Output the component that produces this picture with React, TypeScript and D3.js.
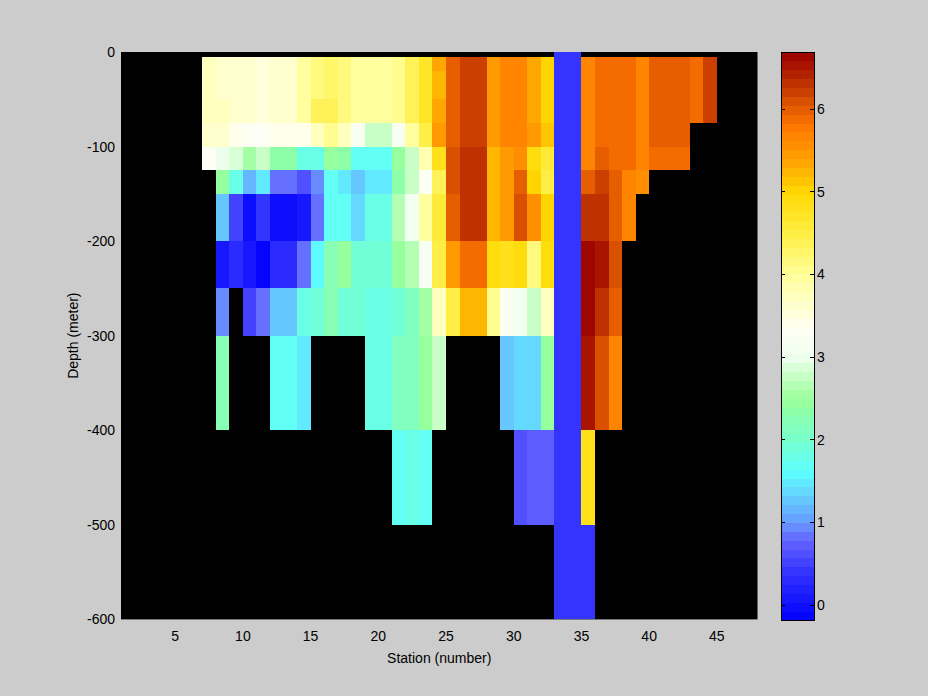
import React from "react";
import * as d3 from "d3";

// Left edge of each station column (cell spans station .. station+1)
const stations = [7, 8, 9, 10, 11, 12, 13, 14, 15, 16, 17, 18, 19, 20, 21, 22, 23, 24, 25, 26, 27, 28, 29, 30, 31, 32, 33, 34, 35, 36, 37, 38, 39, 40, 41, 42, 43, 44];
// Depth band edges (meters, positive downwards)
const depths = [0, 5, 20, 50, 75, 100, 125, 150, 200, 250, 300, 400, 500, 600];

const n = null;
// values[row][col], row = depth band, col = station column
const values: (number | null)[][] = [
  // 0-5
  [n, n, n, n, n, n, n, n, n, n, n, n, n, n, n, n, n, n, n, n, n, n, n, n, n, n, 0.4, 0.4, n, n, n, n, n, n, n, n, n, n],
  // 5-20
  [3.7, 3.6, 3.6, 3.6, 3.5, 3.6, 3.6, 3.9, 4.2, 4.3, 4.2, 3.9, 3.9, 3.9, 4.1, 4.35, 4.75, 5.3, 5.98, 6.2, 6.2, 5.5, 5.72, 5.72, 5.35, 5.0, 0.4, 0.4, 5.65, 5.85, 5.85, 5.85, 5.72, 5.98, 5.98, 5.98, 5.85, 6.2],
  // 20-50
  [3.7, 3.65, 3.6, 3.6, 3.5, 3.6, 3.6, 3.9, 4.2, 4.3, 4.2, 3.9, 3.9, 3.9, 4.1, 4.35, 4.75, 5.25, 5.98, 6.2, 6.2, 5.5, 5.72, 5.72, 5.35, 5.0, 0.4, 0.4, 5.65, 5.85, 5.85, 5.85, 5.72, 5.98, 5.98, 5.98, 5.85, 6.2],
  // 50-75
  [3.7, 3.7, 3.6, 3.6, 3.5, 3.6, 3.6, 3.9, 4.4, 4.35, 4.2, 3.9, 3.9, 3.9, 4.05, 4.4, 4.75, 5.3, 5.98, 6.2, 6.2, 5.5, 5.72, 5.72, 5.35, 5.0, 0.4, 0.4, 5.65, 5.85, 5.85, 5.85, 5.72, 5.98, 5.98, 5.98, 5.85, 6.2],
  // 75-100
  [3.6, 3.6, 3.45, 3.35, 3.35, 3.45, 3.45, 3.45, 3.7, 4.1, 3.7, 3.15, 2.8, 2.8, 3.15, 3.9, 4.45, 5.45, 5.98, 6.2, 6.2, 5.5, 5.72, 5.72, 5.45, 5.1, 0.4, 0.4, 5.65, 5.85, 5.85, 5.85, 5.72, 5.98, 5.98, 5.98, n, n],
  // 100-125
  [3.35, 3.0, 2.9, 2.6, 2.8, 2.3, 2.3, 1.85, 1.85, 2.5, 2.3, 1.75, 1.75, 1.75, 2.4, 2.8, 3.8, 4.85, 6.08, 6.35, 6.35, 5.25, 5.45, 5.6, 4.9, 4.65, 0.4, 0.4, 5.65, 5.98, 5.85, 5.85, 5.72, 5.85, 5.85, 5.85, n, n],
  // 125-150
  [n, 2.5, 1.85, 1.2, 1.5, 0.87, 0.87, 0.6, 0.93, 1.75, 1.5, 1.3, 1.5, 1.5, 2.3, 2.8, 3.35, 4.4, 6.08, 6.35, 6.35, 5.25, 5.45, 5.98, 5.0, 4.5, 0.4, 0.4, 5.98, 6.2, 5.98, 5.72, 5.6, n, n, n, n, n],
  // 150-200
  [n, 1.25, 0.48, 0.02, 0.45, 0.0, 0.0, 0.08, 0.87, 1.75, 1.75, 1.35, 1.85, 1.85, 2.7, 3.05, 3.9, 4.6, 5.98, 6.35, 6.35, 5.25, 5.45, 6.08, 5.6, 5.0, 0.4, 0.4, 6.35, 6.35, 5.98, 5.72, n, n, n, n, n, n],
  // 200-250
  [n, 0.1, 0.28, 0.12, -0.15, 0.28, 0.28, 0.87, 1.62, 2.2, 2.45, 1.9, 1.9, 1.9, 2.5, 2.7, 3.15, 4.5, 5.45, 5.88, 5.88, 4.9, 4.85, 4.9, 4.2, 4.9, 0.4, 0.4, 6.65, 6.5, 6.08, n, n, n, n, n, n, n],
  // 250-300
  [n, 0.97, n, 0.5, 0.8, 1.25, 1.25, 1.85, 1.95, 2.2, 1.9, 1.9, 1.85, 1.85, 1.95, 2.1, 2.6, 3.7, 4.5, 5.2, 5.2, 4.1, 3.15, 3.05, 2.8, 3.7, 0.4, 0.4, 6.65, 6.35, 5.98, n, n, n, n, n, n, n],
  // 300-400
  [n, 2.2, n, n, n, 1.75, 1.75, 1.5, n, n, n, n, 1.85, 1.85, 2.1, 2.1, 2.45, 2.8, n, n, n, n, 1.25, 1.4, 1.4, 2.5, 0.4, 0.4, 6.5, 6.08, 5.72, n, n, n, n, n, n, n],
  // 400-500
  [n, n, n, n, n, n, n, n, n, n, n, n, n, n, 1.75, 1.85, 1.75, n, n, n, n, n, n, 0.6, 0.7, 0.7, 0.4, 0.4, 4.85, n, n, n, n, n, n, n, n, n],
  // 500-600
  [n, n, n, n, n, n, n, n, n, n, n, n, n, n, n, n, n, n, n, n, n, n, n, n, n, n, 0.4, 0.4, 0.4, n, n, n, n, n, n, n, n, n],
];

const xTicks = [5, 10, 15, 20, 25, 30, 35, 40, 45];
const yTicks = [0, -100, -200, -300, -400, -500, -600];
const cTicks = [0, 1, 2, 3, 4, 5, 6];

const colorKeys: [number, string][] = [
  [-0.18, "#0000ff"],
  [0.0, "#1010ff"],
  [0.4, "#3333ff"],
  [0.8, "#6666ff"],
  [1.0, "#6699ff"],
  [1.3, "#66ccff"],
  [1.62, "#5cffff"],
  [2.0, "#77ffcc"],
  [2.5, "#99ff99"],
  [3.0, "#eeffee"],
  [3.35, "#fffff5"],
  [4.0, "#ffff99"],
  [4.5, "#ffee44"],
  [5.0, "#ffd800"],
  [5.4, "#ffa000"],
  [5.8, "#ff7700"],
  [6.1, "#d85000"],
  [6.4, "#b42400"],
  [6.69, "#990000"],
];

const CMIN = -0.18;
const CMAX = 6.69;
const NBANDS = 64;

const W = 928;
const H = 696;
const FONT = "'Liberation Sans', Arial, Helvetica, sans-serif";

export default function App() {
  const x = d3.scaleLinear().domain([1, 48]).range([121, 757.5]);
  const y = d3.scaleLinear().domain([0, -600]).range([52, 619.4]);

  const interp = d3
    .scaleLinear<string>()
    .domain(colorKeys.map((k) => k[0]))
    .range(colorKeys.map((k) => k[1]))
    .interpolate(d3.interpolateRgb)
    .clamp(true);
  const bandW = (CMAX - CMIN) / NBANDS;
  const bandColors = d3.range(NBANDS).map((i) => interp(CMIN + (i + 0.5) * bandW));
  const colorOf = (v: number) => {
    const i = Math.max(0, Math.min(NBANDS - 1, Math.floor((v - CMIN) / bandW)));
    return bandColors[i];
  };

  const cbX0 = 781;
  const cbX1 = 814;
  const cy = d3.scaleLinear().domain([CMIN, CMAX]).range([620, 52]);

  const cells: React.ReactNode[] = [];
  values.forEach((row, r) => {
    row.forEach((v, c) => {
      if (v === null) return;
      const s = stations[c];
      const x0 = x(s);
      const x1 = x(s + 1);
      const y0 = y(-depths[r]);
      const y1 = y(-depths[r + 1]);
      cells.push(
        <rect key={`${r}-${c}`} x={x0} y={y0} width={x1 - x0} height={y1 - y0} fill={colorOf(v)} />
      );
    });
  });

  return (
    <svg
      width={W}
      height={H}
      style={{ position: "absolute", left: 0, top: 0, display: "block" }}
      fontFamily={FONT}
    >
      <rect x={0} y={0} width={W} height={H} fill="#cccccc" />
      <rect x={x(1)} y={y(0)} width={x(48) - x(1)} height={y(-600) - y(0)} fill="#000000" />
      <g shapeRendering="crispEdges">{cells}</g>

      {yTicks.map((t) => (
        <text key={t} x={115} y={y(t)} textAnchor="end" dominantBaseline="central" fontSize={14} fill="#000">
          {t}
        </text>
      ))}
      {xTicks.map((t) => (
        <text key={t} x={x(t)} y={636} textAnchor="middle" dominantBaseline="central" fontSize={14} fill="#000">
          {t}
        </text>
      ))}
      <text x={(x(1) + x(48)) / 2} y={658} textAnchor="middle" dominantBaseline="central" fontSize={14} fill="#000">
        Station (number)
      </text>
      <text
        transform={`translate(73, ${(y(0) + y(-600)) / 2}) rotate(-90)`}
        textAnchor="middle"
        dominantBaseline="central"
        fontSize={14}
        fill="#000"
      >
        Depth (meter)
      </text>

      {/* colorbar */}
      <g shapeRendering="crispEdges">
        {bandColors.map((col, i) => {
          const y0 = cy(CMIN + (i + 1) * bandW);
          const y1 = cy(CMIN + i * bandW);
          return <rect key={i} x={cbX0} y={y0} width={cbX1 - cbX0} height={y1 - y0 + 0.5} fill={col} />;
        })}
        <rect x={cbX0} y={cy(CMAX)} width={cbX1 - cbX0} height={cy(CMIN) - cy(CMAX)} fill="none" stroke="#000" strokeWidth={1} />
        {cTicks.map((t) => (
          <g key={t}>
            <line x1={cbX0} x2={cbX0 + 4} y1={cy(t)} y2={cy(t)} stroke="#000" />
            <line x1={cbX1 - 4} x2={cbX1} y1={cy(t)} y2={cy(t)} stroke="#000" />
          </g>
        ))}
      </g>
      {cTicks.map((t) => (
        <text key={t} x={817} y={cy(t)} textAnchor="start" dominantBaseline="central" fontSize={14} fill="#000">
          {t}
        </text>
      ))}
    </svg>
  );
}
